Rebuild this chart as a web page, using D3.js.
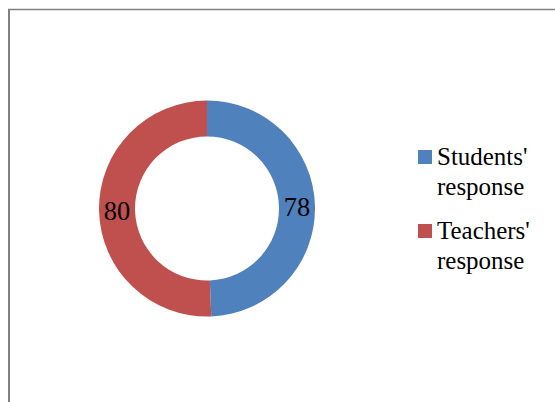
<!DOCTYPE html>
<html>
<head>
<meta charset="utf-8">
<script src="https://cdn.jsdelivr.net/npm/d3@7"></script>
<style>
  html, body { margin: 0; padding: 0; background: #fff; }
</style>
</head>
<body>
<svg id="chart" width="555" height="402"></svg>
<script>
// Response counts per group
const categories = ["Students' response", "Teachers' response"];
const values = [78, 80];
const colors = ["#4F81BD", "#C0504D"];
// Legend lines (each label wraps onto two lines)
const legendLines = [["Students'", "response"], ["Teachers'", "response"]];

const FONT = '"Liberation Serif"';
const svg = d3.select("#chart");
const W = 555, H = 402;

// Frame: top and left edges of the chart area
svg.append("line").attr("x1", 8).attr("x2", W).attr("y1", 9.5).attr("y2", 9.5)
  .attr("stroke", "#808080").attr("stroke-width", 1.5);
svg.append("line").attr("x1", 9).attr("x2", 9).attr("y1", 9).attr("y2", H)
  .attr("stroke", "#808080").attr("stroke-width", 2);

const cx = 207, cy = 208.5, rOuter = 108, rInner = 72;

const pie = d3.pie().sort(null).value(d => d)(values);
const arc = d3.arc().innerRadius(rInner).outerRadius(rOuter);
const labelArc = d3.arc().innerRadius(90).outerRadius(90);

const g = svg.append("g").attr("transform", `translate(${cx},${cy})`);
g.selectAll("path.slice").data(pie).enter().append("path")
  .attr("class", "slice")
  .attr("d", arc)
  .attr("fill", (d, i) => colors[i]);

// Value labels: 24px text scaled up to the label size
pie.forEach(d => {
  const c = labelArc.centroid(d);
  svg.append("text")
    .attr("transform", `translate(${cx + c[0]},${cy + c[1] + 9.5}) scale(1.1)`)
    .attr("text-anchor", "middle")
    .style("font-family", FONT)
    .style("font-size", "24px")
    .text(d.data);
});

// Legend
const entryY = [150, 224];
categories.forEach((c, i) => {
  const y0 = entryY[i];
  svg.append("rect").attr("x", 418).attr("y", y0).attr("width", 14).attr("height", 14)
    .attr("fill", colors[i]);
  legendLines[i].forEach((line, j) => {
    svg.append("text")
      .attr("transform", `translate(437,${y0 + 15 + j * 29.5}) scale(1.04)`)
      .style("font-family", FONT)
      .style("font-size", "24px")
      .text(line);
  });
});
</script>
</body>
</html>
